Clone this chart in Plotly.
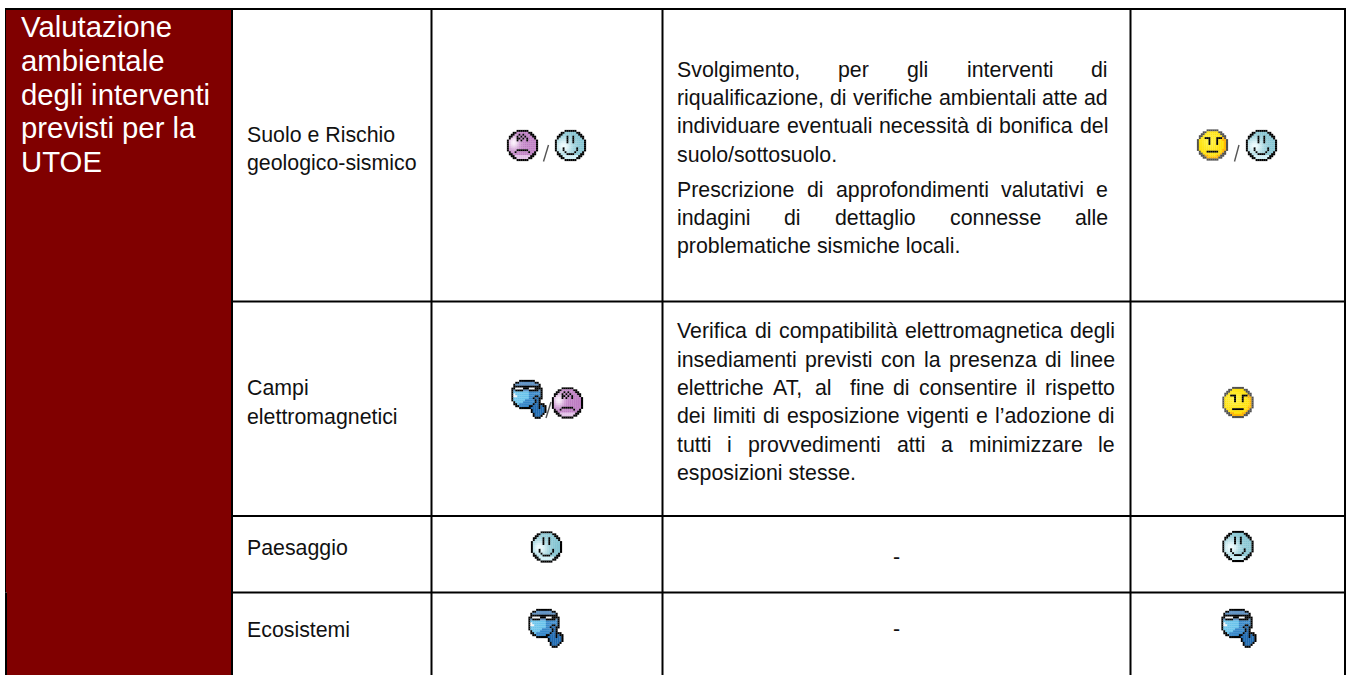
import math
import plotly.graph_objects as go

# ---------- table content ----------
side_title = ["Valutazione", "ambientale", "degli interventi", "previsti per la", "UTOE"]
row_labels = [["Suolo e Rischio", "geologico-sismico"], ["Campi", "elettromagnetici"], ["Paesaggio"], ["Ecosistemi"]]
para_row1 = [("Svolgimento, per gli interventi di", True),
             ("riqualificazione, di verifiche ambientali atte ad", True),
             ("individuare eventuali necessità di bonifica del", True),
             ("suolo/sottosuolo.", False),
             ("Prescrizione di approfondimenti valutativi e", True),
             ("indagini di dettaglio connesse alle", True),
             ("problematiche sismiche locali.", False)]
para_row2 = [("Verifica di compatibilità elettromagnetica degli", True),
             ("insediamenti previsti con la presenza di linee", True),
             ("elettriche AT, al  fine di consentire il rispetto", True),
             ("dei limiti di esposizione vigenti e l’adozione di", True),
             ("tutti i provvedimenti atti a minimizzare le", True),
             ("esposizioni stesse.", False)]
dash_text = "-"

# ---------- layout constants ----------
W, H = 1350, 675
col_edges = [232, 431.5, 662.5, 1130.5, 1345]
row_edges = [9, 301.5, 516, 592.5]
RED = "#800000"
BODY = 21.33
TITLE = 29.33
INK = "#111111"

CHAR_W = dict(zip("abcdefghijklmnopqrstuvwxyz",
                  [556,556,500,556,556,278,556,556,222,222,500,222,833,556,556,556,556,333,500,278,556,500,722,500,500,500]))
CHAR_W.update({"A":667,"T":611,"P":667,"S":667,"V":667,",":278,".":278,"/":278,"à":556,"ù":556,"’":222,"-":333," ":278})

def tw(s, fs):
    return sum(CHAR_W.get(c, 556) for c in s) * fs / 1000

annots = []
def put(text, x, baseline, size=BODY, color=INK, anchor="left"):
    annots.append(dict(text=text, x=x, y=baseline - 0.33 * size, xref="x", yref="y", showarrow=False,
                       xanchor=anchor, yanchor="middle", borderpad=0, borderwidth=0,
                       font=dict(family="Liberation Sans, Arial, sans-serif", size=size, color=color)))

def put_line(line, justify, left, right, baseline):
    if not justify:
        put(line, left, baseline)
        return
    tokens = line.split(" ")
    gaps = len(tokens) - 1
    natural = tw(line.replace(" ", ""), BODY)
    gap = (right - left - natural) / gaps
    x = left
    for t in tokens:
        if t:
            put(t, x, baseline)
        x += tw(t, BODY) + gap

shapes = []
def rect(x0, y0, x1, y1, color):
    shapes.append(dict(type="rect", xref="x", yref="y", x0=x0, y0=y0, x1=x1, y1=y1,
                       fillcolor=color, line=dict(width=0), layer="below"))
def line(x0, y0, x1, y1, color="black", width=2):
    shapes.append(dict(type="line", xref="x", yref="y", x0=x0, y0=y0, x1=x1, y1=y1,
                       line=dict(color=color, width=width), layer="below"))

# red column
rect(7, 9, 231, H, RED)
rect(5.5, 9, 7, 592.5, RED)
line(6, 592.5, 6, H)
line(5.5, 9, 5.5, 592.5, width=1)

# grid
line(5, row_edges[0], col_edges[-1] + 1, row_edges[0])
for y in row_edges[1:]:
    line(col_edges[0], y, col_edges[-1] + 1, y)
for x in col_edges:
    line(x, row_edges[0], x, H)

# ---------- text ----------
for text, b in zip(side_title, [36, 70, 104, 137.5, 171]):
    put(text, 20.5, b, size=TITLE, color="white")

label_base = [[142, 170.5], [395.5, 424], [555], [636.7]]
for lines, bases in zip(row_labels, label_base):
    for t, b in zip(lines, bases):
        put(t, 247, b)

for (t, j), b in zip(para_row1, [76.7, 105, 133.5, 161.7, 196.7, 225, 253.5]):
    put_line(t, j, 677, 1108, b)
for (t, j), b in zip(para_row2, [338.3, 366.7, 395, 423.5, 452, 480.5]):
    put_line(t, j, 677, 1115, b)

put(dash_text, 896, 564, anchor="center")
put(dash_text, 896, 636, anchor="center")

# slashes between the icons
for x0, y0, x1, y1 in [(548.5, 145, 543.5, 161.5), (1239, 145, 1234.5, 161.5), (551, 402, 546, 418)]:
    line(x0, y0, x1, y1, color="#555555", width=1.4)

# ---------- pixel icons ----------
PX = 1.94

def mix(a, b, t):
    t = max(0.0, min(1.0, t))
    return tuple(a[i] + (b[i] - a[i]) * t for i in range(3))

def css(c):
    return "rgb(%d,%d,%d)" % tuple(round(v) for v in c)

SMILE = {(6,3),(6,4),(6,5),(6,6),(9,3),(9,4),(9,5),(9,6),(4,9),(11,9),(4,10),(11,10),(5,11),(10,11),(6,12),(7,12),(8,12),(9,12)}
FROWN = {(6,2),(8,2),(5,3),(7,3),(9,3),(5,4),(6,4),(8,4),(10,4),(5,5),(7,5),(10,5),(5,10),(6,10),(7,10),(8,10),(9,10),(10,10),(4,11),(11,11)}
PLAIN = {(4,4),(5,4),(6,4),(10,4),(11,4),(12,4),(6,5),(6,6),(6,7),(10,5),(10,6),(10,7),(5,11),(6,11),(7,11),(8,11),(9,11),(10,11)}

def face(kind):
    feats = {"blue": SMILE, "purple": FROWN, "yellow": PLAIN}[kind]
    px = {}
    for r in range(16):
        for c in range(16):
            d = math.hypot(c - 7.5, r - 7.5)
            if d > 8.05:
                continue
            if kind == "blue":
                col = mix((130, 195, 208), (238, 252, 254), math.exp(-((c - 4)**2 + (r - 8)**2) / 20))
                if r >= 13:
                    col = (205, 238, 245)
                edge = (0, 0, 0)
            elif kind == "purple":
                col = mix((190, 125, 195), (252, 240, 252), math.exp(-((c - 3)**2 + (r - 6)**2 / 1.5) / 9))
                if r >= 13:
                    col = (225, 190, 230)
                edge = (0, 0, 0)
            else:
                col = mix((255, 222, 0), (255, 242, 60), math.exp(-((c - 6)**2 + (r - 6)**2) / 18))
                if d > 6.0 and c + r > 15:
                    col = (255, 180, 0)
                edge = (80, 80, 80)
            if d > 7.1:
                col = edge
            if (c, r) in feats:
                col = (0, 0, 0)
            px[(c, r)] = col
    return px, 7.5, 7.5

SHUSH = ["....KKKKKKKK......",
         "..KKDDDDDDDDKK....",
         ".KDDDDDDDDDDDDK...",
         ".KKKKKKKKKKKKKK...",
         "KKWWWWKKKWWWKKKK..",
         "KDKKKKDDDKKKKKDK..",
         "KLLLLLLLLMMMMMMK..",
         "KWLLLLLLLMMMMMMK..",
         "KWWLLLLLLMMMKKMK..",
         "KLLLLLLLLMMKHHKK..",
         "KLLLLLLMMMMMKHK...",
         ".KLLLLMMMMMMKHK...",
         ".KKLMMMMMMMKHHKKK.",
         "..KKMMMMMKKHHHKHKK",
         "....KKKKKKHHHHKHHK",
         "..........KHHHHHHK",
         "..........KHHHHHHK",
         "...........KHHHHK.",
         "...........KHHHK..",
         "............KKK..."]
SHUSH_COL = {"K": (0, 0, 0), "D": (95, 145, 195), "W": (240, 245, 248),
             "L": (105, 195, 235), "M": (55, 135, 200), "H": (30, 105, 175)}

def shush():
    px = {}
    for r, row in enumerate(SHUSH):
        for c, ch in enumerate(row):
            if ch != ".":
                px[(c, r)] = SHUSH_COL[ch]
    return px, 7.5, 7.0

# (icon, centre x, centre y) for each drawn icon
icons = [("purple", 522.5, 145.5), ("blue", 570.5, 145.5),
         ("yellow", 1212.5, 145), ("blue", 1261.5, 145.5),
         ("shush", 527, 394.5), ("purple", 567.5, 403),
         ("yellow", 1238, 402.5),
         ("blue", 546.5, 547), ("blue", 1238, 546.5),
         ("shush", 544, 623.5), ("shush", 1237, 623.5)]

fig = go.Figure()
for kind, cx, cy in icons:
    px, ox, oy = shush() if kind == "shush" else face(kind)
    keys = list(px)
    fig.add_trace(go.Scatter(
        x=[cx + (c - ox) * PX for c, r in keys],
        y=[cy + (r - oy) * PX for c, r in keys],
        mode="markers", hoverinfo="skip", showlegend=False,
        marker=dict(symbol="square", size=2.1, line=dict(width=0), color=[css(px[k]) for k in keys])))

fig.update_layout(
    width=W, height=H, margin=dict(l=0, r=0, t=0, b=0),
    paper_bgcolor="white", plot_bgcolor="white", showlegend=False,
    xaxis=dict(range=[0, W], visible=False, fixedrange=True),
    yaxis=dict(range=[H, 0], visible=False, fixedrange=True),
    shapes=shapes, annotations=annots)

fig.write_html("out.html", config={"displayModeBar": False},
               post_script="document.body.style.margin='0';document.body.style.overflow='hidden';")
